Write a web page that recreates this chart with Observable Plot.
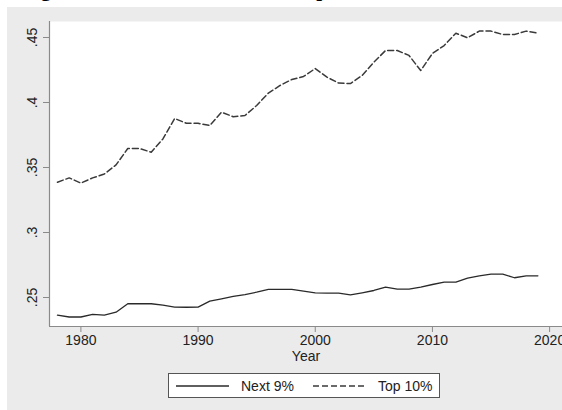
<!DOCTYPE html>
<html>
<head>
<meta charset="utf-8">
<script src="https://cdn.jsdelivr.net/npm/d3@7"></script>
<script src="https://cdn.jsdelivr.net/npm/@observablehq/plot@0.6"></script>
<style>
  html, body { margin: 0; padding: 0; background: #ffffff; }
  body { width: 562px; height: 410px; position: relative; overflow: hidden; }
  #title { position: absolute; left: 0; top: 0; width: 562px; height: 7px; overflow: hidden; }
  #title span { position: absolute; left: 22px; top: -21px; white-space: nowrap;
    font: bold 21px "Liberation Serif", "Times New Roman", serif; line-height: 21px; color: #000; }
  #panel { position: absolute; left: 7px; top: 7px; width: 555px; height: 403px; background: #ebebeb; }
  #chart { position: absolute; left: 0; top: 0; }
  #legend { position: absolute; left: 161px; top: 366px; width: 272px; height: 25px;
    background: #fff; border: 1px solid #555; box-sizing: border-box;
    font: 14px "Liberation Sans", Arial, sans-serif; color: #222; }
  #legend .item { position: absolute; top: 0; height: 23px; display: flex; align-items: center; }
  #legend svg { display: block; }
</style>
</head>
<body>
<div id="title"><span>Figure 3: Income shares of the top 10% and next 9%</span></div>
<div id="panel">
  <div id="chart"></div>
  <div id="legend"></div>
</div>
<script>
// Income shares by year
const years = [1978, 1979, 1980, 1981, 1982, 1983, 1984, 1985, 1986, 1987,
  1988, 1989, 1990, 1991, 1992, 1993, 1994, 1995, 1996, 1997,
  1998, 1999, 2000, 2001, 2002, 2003, 2004, 2005, 2006, 2007,
  2008, 2009, 2010, 2011, 2012, 2013, 2014, 2015, 2016, 2017,
  2018, 2019];

const next9 = [0.2364, 0.2350, 0.2350, 0.2370, 0.2364, 0.2387, 0.2452, 0.2453, 0.2452, 0.2442,
  0.2426, 0.2425, 0.2426, 0.2472, 0.2490, 0.2508, 0.2523, 0.2541, 0.2562, 0.2562,
  0.2562, 0.2549, 0.2536, 0.2533, 0.2533, 0.2520, 0.2536, 0.2554, 0.2580, 0.2564,
  0.2564, 0.2580, 0.2600, 0.2618, 0.2618, 0.2649, 0.2667, 0.2680, 0.2680, 0.2652,
  0.2667, 0.2667];

const top10 = [0.3387, 0.3420, 0.3380, 0.3420, 0.3450, 0.3520, 0.3646, 0.3646, 0.3618, 0.3720,
  0.3877, 0.3840, 0.3840, 0.3823, 0.3926, 0.3890, 0.3900, 0.3977, 0.4072, 0.4131,
  0.4177, 0.4200, 0.4261, 0.4195, 0.4149, 0.4146, 0.4208, 0.4310, 0.4400, 0.4400,
  0.4362, 0.4246, 0.4377, 0.4438, 0.4533, 0.4498, 0.4549, 0.4549, 0.4523, 0.4523,
  0.4549, 0.4533];

const seriesNames = ["Next 9%", "Top 10%"];
const xTicks = [1980, 1990, 2000, 2010, 2020];
const yTicks = [0.25, 0.30, 0.35, 0.40, 0.45];
const xTitle = "Year";

const rows = years.flatMap((year, i) => [
  {year, share: next9[i], series: seriesNames[0]},
  {year, share: top10[i], series: seriesNames[1]}
]);

const xDomain = [1977.32, 2021.1];
const yDomain = [0.2277, 0.4623];
const axisGray = "#8a8a8a";
const font = '"Liberation Sans", Arial, sans-serif';

const chart = Plot.plot({
  width: 555,
  height: 358,
  marginLeft: 42,
  marginTop: 14,
  marginBottom: 39,
  marginRight: 0,
  style: {background: "transparent", fontFamily: font, fontSize: "14px", color: "#222"},
  x: {domain: xDomain},
  y: {domain: yDomain},
  marks: [
    Plot.frame({fill: "white", stroke: "none"}),
    Plot.axisX({ticks: xTicks, tickFormat: d => String(d), tickSize: 6, tickPadding: 3,
      stroke: axisGray, label: xTitle, labelAnchor: "center", labelArrow: "none", labelOffset: 34}),
    Plot.axisY({ticks: yTicks, tickFormat: d => String(+d.toFixed(2)).replace(/^0/, ""),
      tickSize: 6, tickPadding: 7, tickRotate: -90, stroke: axisGray, label: null}),
    Plot.ruleY([yDomain[0]], {stroke: axisGray, strokeWidth: 1.2}),
    Plot.ruleX([xDomain[0]], {stroke: axisGray, strokeWidth: 1.2}),
    Plot.line(rows.filter(d => d.series === seriesNames[0]),
      {x: "year", y: "share", stroke: "#2a2a2a", strokeWidth: 1.3}),
    Plot.line(rows.filter(d => d.series === seriesNames[1]),
      {x: "year", y: "share", stroke: "#3a3a3a", strokeWidth: 1.5, strokeDasharray: "6,3"})
  ]
});
document.getElementById("chart").append(chart);

// Legend: solid and dashed line samples with their series names
const legend = document.getElementById("legend");
const legendItems = [
  {name: seriesNames[0], left: 6, dash: null, color: "#2a2a2a", width: 1.3},
  {name: seriesNames[1], left: 143, dash: "6,3", color: "#3a3a3a", width: 1.5}
];
for (const it of legendItems) {
  const item = document.createElement("div");
  item.className = "item";
  item.style.left = it.left + "px";
  const svg = d3.create("svg").attr("width", 62).attr("height", 10);
  svg.append("line").attr("x1", 1).attr("x2", 54).attr("y1", 5).attr("y2", 5)
    .attr("stroke", it.color).attr("stroke-width", it.width)
    .attr("stroke-dasharray", it.dash);
  item.append(svg.node());
  const label = document.createElement("span");
  label.style.marginLeft = "4px";
  label.textContent = it.name;
  item.append(label);
  legend.append(item);
}
</script>
</body>
</html>
